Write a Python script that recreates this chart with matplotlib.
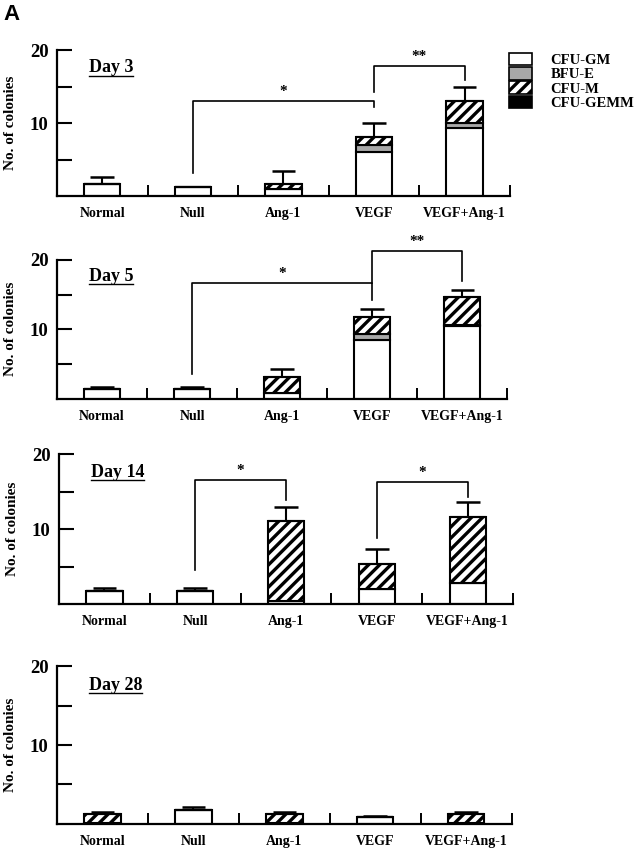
import matplotlib
matplotlib.use('Agg')
import matplotlib.pyplot as plt
from matplotlib.patches import Patch
from matplotlib.ticker import FixedLocator, FuncFormatter
import numpy as np

plt.rcParams['font.family'] = ['Liberation Serif', 'DejaVu Serif']
plt.rcParams['font.weight'] = 'bold'
plt.rcParams['hatch.linewidth'] = 2.4

categories = ['Normal', 'Null', 'Ang-1', 'VEGF', 'VEGF+Ang-1']
days = ['Day 3', 'Day 5', 'Day 14', 'Day 28']

# colony counts per type (stack order: CFU-GM, BFU-E, CFU-M, CFU-GEMM)
cfu_gm = [
    [1.6, 1.2, 1.0, 6.1, 9.3],
    [1.4, 1.4, 0.8, 8.4, 10.5],
    [1.8, 1.8, 0.45, 2.0, 2.8],
    [0.05, 1.75, 0.05, 0.88, 0.05],
]
bfu_e = [
    [0, 0, 0, 0.9, 0.7],
    [0, 0, 0, 0.9, 0.1],
    [0, 0, 0, 0, 0],
    [0, 0, 0, 0, 0],
]
cfu_m = [
    [0, 0, 0.7, 1.1, 3.1],
    [0, 0, 2.4, 2.4, 4.1],
    [0, 0, 10.65, 3.4, 8.8],
    [1.2, 0, 1.2, 0, 1.25],
]
cfu_gemm = [
    [0, 0, 0, 0, 0],
    [0, 0, 0, 0, 0],
    [0, 0, 0, 0, 0],
    [0, 0, 0, 0, 0],
]
sem = [
    [1.0, 0.0, 1.7, 1.9, 1.9],
    [0.3, 0.3, 1.1, 1.2, 1.0],
    [0.4, 0.4, 1.8, 2.0, 2.0],
    [0.2, 0.45, 0.2, 0.17, 0.2],
]

# significance brackets: (x1, x2, top, left bottom, right bottom, label)
brackets = [
    [(1, 3, 13.1, 3.1, 12.2, '*'), (3, 4, 17.9, 14.3, 15.9, '**')],
    [(1, 3, 16.65, 3.6, 14.2, '*'), (3, 4, 21.3, 16.7, 16.9, '**')],
    [(1, 2, 16.5, 4.5, 13.9, '*'), (3, 4, 16.3, 8.8, 14.3, '*')],
    [],
]

series_names = ['CFU-GM', 'BFU-E', 'CFU-M', 'CFU-GEMM']
series_colors = ['white', '#a8a8a8', 'white', 'black']
series_hatch = [None, None, '///', None]

# axes rectangles in figure fraction
rects = [
    [0.0896, 0.770, 0.712, 0.171],
    [0.0896, 0.532, 0.708, 0.163],
    [0.0928, 0.291, 0.714, 0.176],
    [0.0896, 0.033, 0.715, 0.185],
]

fig = plt.figure(figsize=(6.36, 8.52), dpi=100)
fig.text(0.005, 0.995, 'A', fontsize=16, fontweight='bold',
         family=['Liberation Sans', 'DejaVu Sans'], va='top', ha='left')

x = np.arange(len(categories))
w = 0.4
for i, day in enumerate(days):
    ax = fig.add_axes(rects[i])
    stacks = [cfu_gm[i], bfu_e[i], cfu_m[i], cfu_gemm[i]]
    bottom = np.zeros(len(categories))
    for vals, col, h in zip(stacks, series_colors, series_hatch):
        vals = np.array(vals, dtype=float)
        ax.bar(x, vals, w, bottom=bottom, color=col, edgecolor='black',
               linewidth=1.5, hatch=h, zorder=2)
        bottom = bottom + vals
    s = np.array(sem[i])
    has = s > 0
    ax.vlines(x[has], bottom[has], bottom[has] + s[has], color='black', lw=1.5, zorder=1)
    ax.hlines(bottom[has] + s[has], x[has] - 0.13, x[has] + 0.13, color='black', lw=1.8, zorder=1)

    for x1, x2, top, lb, rb, lab in brackets[i]:
        ax.plot([x1, x1, x2, x2], [lb, top, top, rb], color='black', lw=1.2,
                clip_on=False, zorder=3)
        ax.text((x1 + x2) / 2, top + 0.4, lab, ha='center', va='bottom',
                fontsize=11, fontweight='bold')

    ax.set_xlim(-0.5, 4.5)
    ax.set_ylim(0, 20)
    ax.spines['top'].set_visible(False)
    ax.spines['right'].set_visible(False)
    ax.spines['left'].set_linewidth(1.6)
    ax.spines['bottom'].set_linewidth(1.6)

    ax.xaxis.set_major_locator(FixedLocator([0.5, 1.5, 2.5, 3.5, 4.5]))
    ax.xaxis.set_major_formatter(FuncFormatter(lambda v, p: ''))
    ax.xaxis.set_minor_locator(FixedLocator(list(x)))
    ax.set_xticklabels(categories, minor=True)
    ax.tick_params(axis='x', which='major', direction='in', length=8, width=1.4)
    ax.tick_params(axis='x', which='minor', length=0, pad=8, labelsize=10)
    ax.set_yticks([5, 10, 15, 20])
    ax.yaxis.set_major_formatter(FuncFormatter(lambda v, p: '%d' % v if v % 10 == 0 else ''))
    ax.tick_params(axis='y', direction='in', length=11, width=1.5, pad=6, labelsize=13.5)
    ax.set_ylabel('No. of colonies', fontsize=11, fontweight='bold')
    ax.yaxis.set_label_coords(-0.088, 0.5)

    t = ax.text(0.07, 0.88, day, transform=ax.transAxes, fontsize=13,
                fontweight='bold', ha='left', va='center')
    fig.canvas.draw()
    bb = t.get_window_extent().transformed(ax.transAxes.inverted())
    ax.plot([bb.x0, bb.x1], [bb.y0 + 0.005, bb.y0 + 0.005], color='black', lw=1.0,
            transform=ax.transAxes, clip_on=False)

    if i == 0:
        handles = [Patch(facecolor=c, edgecolor='black', hatch=h, linewidth=1.2)
                   for c, h in zip(series_colors, series_hatch)]
        fig.legend(handles, series_names, loc='upper left',
                   bbox_to_anchor=(0.8, 0.938), frameon=False, fontsize=10.5,
                   handlelength=1.6, handleheight=0.95, labelspacing=0.0,
                   handletextpad=1.25, borderaxespad=0, borderpad=0)

plt.savefig('out.png', dpi=100)
